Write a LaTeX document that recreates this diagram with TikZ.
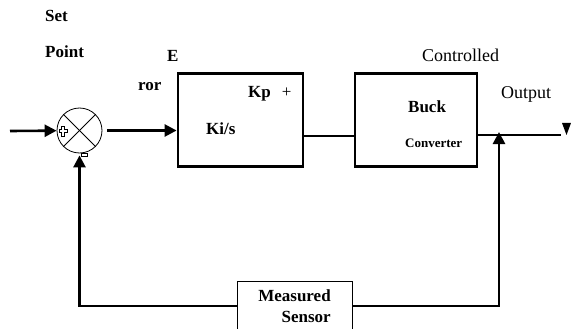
\documentclass[tikz,border=0pt]{standalone}
\usepackage{fontspec}
\setmainfont{Liberation Serif}
\usetikzlibrary{positioning, arrows.meta, calc}

\begin{document}
\begin{tikzpicture}[
    x=1pt, y=-1pt,
    block/.style={rectangle, draw, line width=2.8pt, minimum height=93pt},
    sumnode/.style={circle, draw, line width=0.8pt, minimum size=45pt, inner sep=0pt},
    sensorbox/.style={rectangle, draw, line width=0.9pt, minimum width=115pt, minimum height=50pt, align=right, font=\bfseries\fontsize{17}{21}\selectfont},
    lbl/.style={anchor=base west, inner sep=0pt, font=\bfseries\fontsize{17}{20}\selectfont},
    plainlbl/.style={anchor=base west, inner sep=0pt, font=\fontsize{18}{21}\selectfont},
    wire/.style={line width=2.6pt},
    arrow/.style={-{Triangle[length=12pt, width=12pt]}, line width=2.6pt}
]
\useasboundingbox (0,0) rectangle (571,329);
\clip (0,0) rectangle (571,329);

% blocks
\node[sumnode] (sum) at (79.5,130.5) {};
\node[block, minimum width=125pt] (pi) at (240.5,120) {};
\node[block, minimum width=122pt] (buck) at (416,120) {};
\node[sensorbox] (sensor) at (294.5,306) {Measured\\Sensor};

% labels
\node[lbl] (setlbl) at (45,22) {Set};
\node[lbl] (pointlbl) at (45,58) {Point};
\node[lbl] (elbl) at (167,62) {E};
\node[lbl] (rorlbl) at (138,91) {ror};
\node[lbl] (kplbl) at (248,98) {Kp\hspace{11pt}\mdseries+};
\node[lbl] (kilbl) at (206,135) {Ki/s};
\node[lbl] (bucklbl) at (408,113) {Buck};
\node[lbl, font=\bfseries\fontsize{13}{15}\selectfont] (convlbl) at (405,147) {Converter};
\node[plainlbl] (ctrllbl) at (422,62) {Controlled};
\node[plainlbl] (outlbl) at (501,99) {Output};

\coordinate (in) at (10,131);
\coordinate (out) at (561,135);
\coordinate (tap) at (499,132);

% forward path
\draw[arrow] (in) -- (sum);
\draw[arrow, shorten <=5pt] (sum.east) -- (sum.east -| pi.west);
\draw[wire] ($(pi.east)+(0,16)$) -- ($(buck.west)+(0,16)$);
\draw[wire] ($(buck.east)+(0,15)$) -- (out);
\fill ($(out)+(1,-12)$) -- ++(9,0) -- ++(-4.5,12) -- cycle;

% feedback path
\draw[arrow] (sensor.east) -| (tap);
\draw[arrow, shorten >=2pt] (sensor.west) -| (sum.south);

% summing junction marks
\draw[line width=0.8pt] (sum.north west) -- (sum.south east);
\draw[line width=0.8pt] (sum.south west) -- (sum.north east);
\draw[line width=0.5pt] (61.5,126) -- (64.5,126) -- (64.5,129.5) -- (67,129.5) -- (67,132.5) -- (64.5,132.5) -- (64.5,136) -- (61.5,136) -- (61.5,132.5) -- (59,132.5) -- (59,129.5) -- (61.5,129.5) -- cycle;
\draw[line width=0.5pt] (81,153) rectangle (87,156);
\end{tikzpicture}
\end{document}
